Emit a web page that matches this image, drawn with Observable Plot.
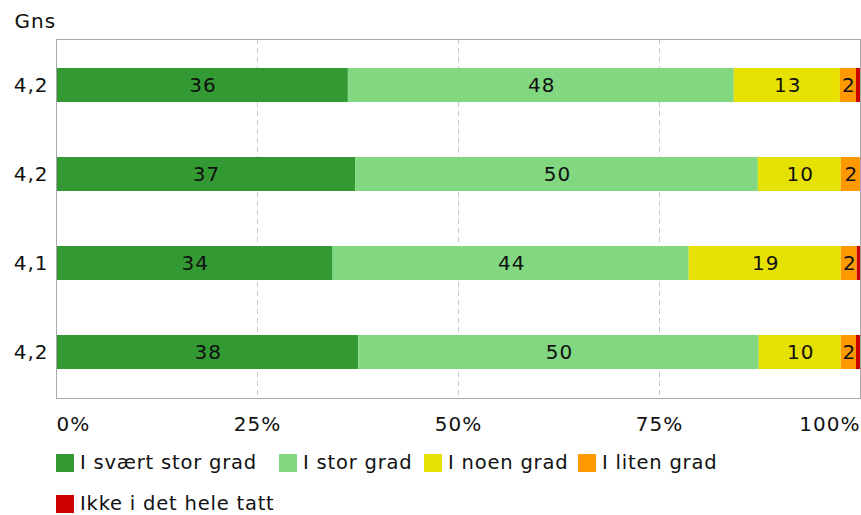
<!DOCTYPE html>
<html>
<head>
<meta charset="utf-8">
<script src="https://cdn.jsdelivr.net/npm/d3@7"></script>
<script src="https://cdn.jsdelivr.net/npm/@observablehq/plot@0.6"></script>
<style>
  body { margin: 0; background: #fff; font-family: "DejaVu Sans", Verdana, sans-serif; }
  #chart svg { display: block; }
  #chart svg text { letter-spacing: 1px; }
  .legend { position: relative; width: 861px; height: 72px; }
  .item { position: absolute; display: flex; align-items: center; height: 20px; line-height: 20px; font-size: 19.5px; letter-spacing: 0.8px; color: #111; white-space: nowrap; }
  .sw { width: 18px; height: 18px; margin-right: 6px; }
</style>
</head>
<body>
<div id="chart"></div>
<div class="legend" id="legend"></div>
<script>
const rows = ["r1", "r2", "r3", "r4"];
const gns = ["4,2", "4,2", "4,1", "4,2"];
const categories = ["I svært stor grad", "I stor grad", "I noen grad", "I liten grad", "Ikke i det hele tatt"];
const colors = ["#339933", "#81d881", "#e6e100", "#ff9900", "#cc0000"];
const svaertStor = [36.3, 37.2, 34.4, 37.6];
const stor = [48.0, 50.1, 44.3, 49.8];
const noen = [13.2, 10.3, 18.9, 10.2];
const liten = [2.0, 2.4, 2.0, 1.9];
const ikke = [0.5, 0.0, 0.4, 0.5];
const labels1 = [36, 37, 34, 38];
const labels2 = [48, 50, 44, 50];
const labels3 = [13, 10, 19, 10];
const labels4 = [2, 2, 2, 2];
const xTicks = [0, 25, 50, 75, 100];

const series = [svaertStor, stor, noen, liten, ikke];
const labelSeries = [labels1, labels2, labels3, labels4, null];
const data = [];
rows.forEach((r, i) => {
  categories.forEach((c, j) => {
    data.push({row: r, cat: c, value: series[j][i], label: labelSeries[j] ? labelSeries[j][i] : null});
  });
});
const gnsMap = Object.fromEntries(rows.map((r, i) => [r, gns[i]]));

const font = "DejaVu Sans, Verdana, sans-serif";
const chart = Plot.plot({
  width: 861,
  height: 443,
  marginTop: 39,
  marginLeft: 56,
  marginRight: 1,
  marginBottom: 45,
  style: {fontFamily: font, fontSize: "20px", color: "#111", background: "#fff"},
  x: {domain: [0, 100], axis: null},
  y: {domain: rows, axis: null, paddingInner: 0.62, paddingOuter: 0.31},
  color: {domain: categories, range: colors},
  marks: [
    Plot.ruleX([25, 50, 75], {stroke: "#c8c8c8", strokeDasharray: "5,4", strokeWidth: 1}),
    Plot.barX(data, {x: "value", y: "row", fill: "cat", order: categories, insetTop: 0, insetBottom: 0}),
    Plot.text(data.filter(d => d.label != null), Plot.stackX({x: "value", y: "row", z: "cat", order: categories, text: d => String(d.label), fill: "#111", fontSize: 20, dx: 0.5})),
    Plot.frame({stroke: "#a8a8a8"}),
    Plot.text(rows, {y: d => d, text: d => gnsMap[d], frameAnchor: "left", lineAnchor: "middle", dx: -8, textAnchor: "end", fontSize: 20, fill: "#111"}),
    Plot.text(["Gns"], {frameAnchor: "top-left", lineAnchor: "middle", dx: -42, dy: -18, textAnchor: "start", fontSize: 20, fill: "#111"}),
    Plot.text([xTicks[0]], {x: d => d, text: d => d + "%", frameAnchor: "bottom", lineAnchor: "middle", dy: 26, textAnchor: "start", fontSize: 20, fill: "#111"}),
    Plot.text(xTicks.slice(1, 4), {x: d => d, text: d => d + "%", frameAnchor: "bottom", lineAnchor: "middle", dy: 26, textAnchor: "middle", fontSize: 20, fill: "#111"}),
    Plot.text([xTicks[4]], {x: d => d, text: d => d + "%", frameAnchor: "bottom", lineAnchor: "middle", dy: 26, textAnchor: "end", fontSize: 20, fill: "#111"})
  ]
});
document.getElementById("chart").appendChild(chart);

// legend layout (pixel positions of each entry)
const legendLeft = [56, 279, 424, 578, 56];
const legendTop = [10, 10, 10, 10, 51];
const legend = document.getElementById("legend");
categories.forEach((c, j) => {
  const item = document.createElement("div");
  item.className = "item";
  item.style.left = legendLeft[j] + "px";
  item.style.top = legendTop[j] + "px";
  const sw = document.createElement("div");
  sw.className = "sw";
  sw.style.background = colors[j];
  const label = document.createElement("span");
  label.textContent = c;
  item.appendChild(sw);
  item.appendChild(label);
  legend.appendChild(item);
});
</script>
</body>
</html>
